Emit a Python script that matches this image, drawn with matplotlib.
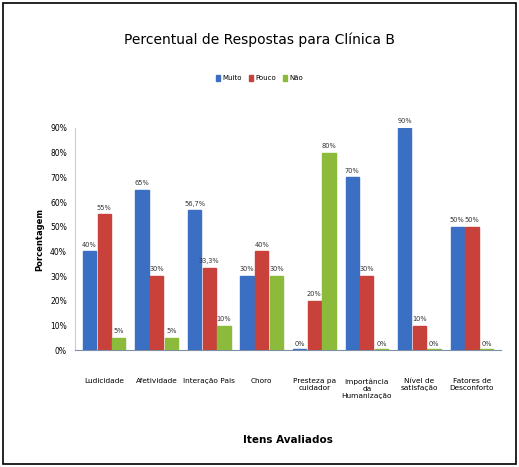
import numpy as np
import matplotlib.pyplot as plt
from matplotlib.patches import Rectangle

# dados
itens = ['Ludicidade', 'Afetividade', 'Interação Pais', 'Choro',
         'Presteza pa\ncuidador', 'Importância\nda\nHumanização',
         'Nível de\nsatisfação', 'Fatores de\nDesconforto']
muito = [40, 65, 56.7, 30, 0, 70, 90, 50]
pouco = [55, 30, 33.3, 40, 20, 30, 10, 50]
nao = [5, 5, 10, 30, 80, 0, 0, 0]

plt.rcParams['font.family'] = ['DejaVu Sans']

fig = plt.figure(figsize=(5.19, 4.67), dpi=100)
ax = fig.add_axes([0.145, 0.25, 0.82, 0.476])

x = np.arange(len(itens))
w = 0.28
cores = ['#3a6fc4', '#c8413b', '#8cbb3c']
series = [muito, pouco, nao]
nomes = ['Muito', 'Pouco', 'Não']

def rotulo(v):
    s = ('%g' % v).replace('.', ',')
    return s + '%'

for i, (vals, cor, nome) in enumerate(zip(series, cores, nomes)):
    pos = x + (i - 1) * w
    altura = [max(v, 0.6) for v in vals]
    ax.bar(pos, altura, width=w * 0.9, color=cor, edgecolor=cor, label=nome, zorder=3)
    for p, v in zip(pos, vals):
        ax.text(p, v + 1.5, rotulo(v), ha='center', va='bottom', fontsize=4.8,
                color='#333333')

ax.set_ylim(0, 90)
ax.set_xlim(-0.55, len(itens) - 0.45)
ax.set_yticks(range(0, 91, 10))
ax.set_yticklabels(['%d%%' % t for t in range(0, 91, 10)], fontsize=5.5)
ax.set_xticks(x)
ax.set_xticklabels(itens, fontsize=5.3, va='top')
ax.tick_params(axis='y', length=0, pad=6)
ax.tick_params(axis='x', length=0, pad=20)
for s in ['top', 'right']:
    ax.spines[s].set_visible(False)
ax.spines['left'].set_color('#cccccc')
ax.spines['bottom'].set_color('#7f8fa6')

ax.set_ylabel('Porcentagem', fontsize=6, fontweight='bold', labelpad=4)
ax.set_xlabel('Itens Avaliados', fontsize=7.5, fontweight='bold', labelpad=26)

fig.text(0.5, 0.915, 'Percentual de Respostas para Clínica B', ha='center', va='center',
         fontsize=10)
fig.legend(loc='center', bbox_to_anchor=(0.5, 0.832), ncol=3, fontsize=5, frameon=False,
           handlelength=0.6, handleheight=0.8, handletextpad=0.3, columnspacing=1.0)

fig.patches.append(Rectangle((0.006, 0.006), 0.988, 0.988, transform=fig.transFigure,
                             fill=False, edgecolor='black', linewidth=1.2))

fig.savefig('out.png', dpi=100)
